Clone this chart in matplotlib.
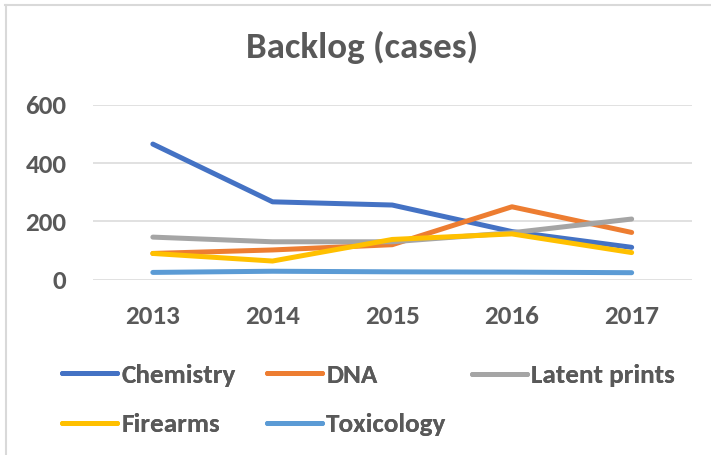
import matplotlib
matplotlib.use("Agg")
import matplotlib.pyplot as plt
from matplotlib.lines import Line2D

# data
years = ["2013", "2014", "2015", "2016", "2017"]
chemistry = [465, 267, 256, 165, 111]
dna = [90, 102, 120, 250, 162]
latent_prints = [146, 130, 130, 161, 208]
firearms = [90, 64, 138, 157, 93]
toxicology = [25, 29, 27, 26, 24]

series = [
    ("Chemistry", chemistry, "#4472C4"),
    ("DNA", dna, "#ED7D31"),
    ("Latent prints", latent_prints, "#A5A5A5"),
    ("Firearms", firearms, "#FFC000"),
    ("Toxicology", toxicology, "#5B9BD5"),
]

txt = "#595959"
plt.rcParams["font.family"] = ["Carlito", "DejaVu Sans"]
plt.rcParams["font.weight"] = "bold"

fig = plt.figure(figsize=(7.11, 4.55), dpi=100)
W, H = 711, 455
ax = fig.add_axes([93 / W, 1 - 279.7 / H, (691.5 - 93) / W, (279.7 - 104.7) / H])

x = list(range(len(years)))
handles = {}
for name, vals, col in series:
    ln, = ax.plot(x, vals, color=col, lw=3.6, solid_capstyle="round",
                  solid_joinstyle="round", clip_on=False, label=name)
    handles[name] = ln

ax.set_xlim(-0.5, len(years) - 0.5)
ax.set_ylim(0, 600)
ax.set_yticks([0, 200, 400, 600])
ax.set_xticks(x)
ax.set_xticklabels(years)
ax.grid(axis="y", color="#D9D9D9", lw=1.1)
ax.set_axisbelow(True)
for s in ax.spines.values():
    s.set_visible(False)
ax.tick_params(axis="both", length=0, labelsize=19.5, labelcolor=txt)
ax.tick_params(axis="y", pad=19)
ax.tick_params(axis="x", pad=18)

fig.text(362.5 / W, 1 - 58.3 / H, "Backlog (cases)", ha="center", va="baseline",
         fontsize=26.6, fontweight="bold", color=txt)

# legend: three fixed-pitch columns like the Excel one
columns = [["Chemistry", "Firearms"], ["DNA", "Toxicology"], ["Latent prints"]]
col_x = [61.7, 266.7, 471.7]
for names, cx in zip(columns, col_x):
    cy = 400 if len(names) == 2 else 375.7
    leg = fig.legend([handles[n] for n in names], names, loc="center left",
                     bbox_to_anchor=(cx / W, 1 - cy / H), frameon=False,
                     fontsize=19.5, handlelength=2.04, handletextpad=0.15,
                     labelspacing=0.99, borderpad=0, borderaxespad=0)
    for t in leg.get_texts():
        t.set_color(txt)
    fig.add_artist(leg)

# chart border (only top and left show)
fig.add_artist(Line2D([5 / W, 1], [1 - 4.7 / H, 1 - 4.7 / H], color="#D9D9D9", lw=1.5))
fig.add_artist(Line2D([6 / W, 6 / W], [0, 1 - 4.7 / H], color="#D9D9D9", lw=1.5))

fig.savefig("out.png", dpi=100)
